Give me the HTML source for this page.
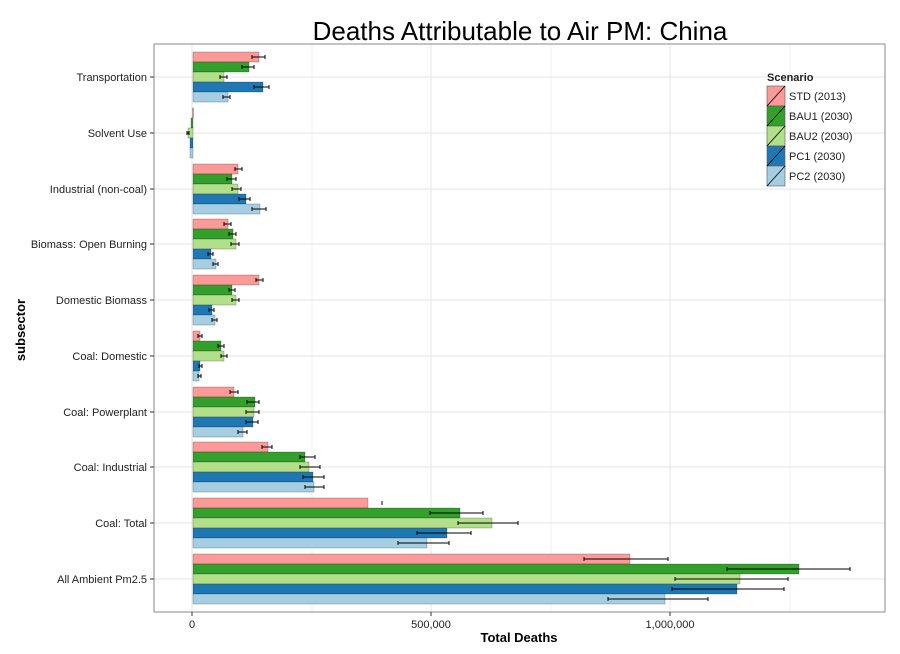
<!DOCTYPE html>
<html><head><meta charset="utf-8"><style>
html,body{margin:0;padding:0;background:#fff;}
svg{display:block;font-family:"Liberation Sans",sans-serif;}
.a{fill:#fb9a99}.b{fill:#33a02c}.c{fill:#b2df8a}.d{fill:#1f78b4}.e{fill:#a6cee3}
#bars rect{stroke:rgba(0,0,0,0.35);stroke-width:0.6}
.err{stroke:#000;stroke-width:1;fill:none}
</style></head><body>
<svg width="900" height="654" viewBox="0 0 900 654" xmlns="http://www.w3.org/2000/svg">
<rect width="900" height="654" fill="#fff"/>
<text x="520" y="40" font-size="26" text-anchor="middle" fill="#000">Deaths Attributable to Air PM: China</text>
<g stroke-width="1">
<line x1="312" y1="44" x2="312" y2="612" stroke="#f0f0f0"/>
<line x1="551" y1="44" x2="551" y2="612" stroke="#f0f0f0"/>
<line x1="790" y1="44" x2="790" y2="612" stroke="#f0f0f0"/>
<line x1="192" y1="44" x2="192" y2="612" stroke="#e4e4e4"/>
<line x1="431" y1="44" x2="431" y2="612" stroke="#e4e4e4"/>
<line x1="670" y1="44" x2="670" y2="612" stroke="#e4e4e4"/>
</g>
<g stroke="#e4e4e4">
<line x1="154" x2="885" y1="77" y2="77"/><line x1="154" x2="885" y1="133" y2="133"/>
<line x1="154" x2="885" y1="189" y2="189"/><line x1="154" x2="885" y1="244" y2="244"/>
<line x1="154" x2="885" y1="300" y2="300"/><line x1="154" x2="885" y1="356" y2="356"/>
<line x1="154" x2="885" y1="412" y2="412"/><line x1="154" x2="885" y1="467" y2="467"/>
<line x1="154" x2="885" y1="523" y2="523"/><line x1="154" x2="885" y1="579" y2="579"/>
</g>
<g id="bars">
<rect class="a" x="193" y="52" width="66" height="10"/><rect class="b" x="193" y="62" width="56" height="10"/><rect class="c" x="193" y="72" width="31" height="10"/><rect class="d" x="193" y="82" width="70" height="10"/><rect class="e" x="193" y="92" width="35" height="10"/>
<rect class="a" x="192.5" y="108" width="1" height="10"/><rect class="b" x="191" y="118" width="2" height="10"/><rect class="c" x="188" y="128" width="5" height="10"/><rect class="d" x="190" y="138" width="3" height="10"/><rect class="e" x="190" y="148" width="3" height="10"/>
<rect class="a" x="193" y="164" width="45" height="10"/><rect class="b" x="193" y="174" width="39" height="10"/><rect class="c" x="193" y="184" width="45" height="10"/><rect class="d" x="193" y="194" width="53" height="10"/><rect class="e" x="193" y="204" width="67" height="10"/>
<rect class="a" x="193" y="219" width="35" height="10"/><rect class="b" x="193" y="229" width="40" height="10"/><rect class="c" x="193" y="239" width="43" height="10"/><rect class="d" x="193" y="249" width="18" height="10"/><rect class="e" x="193" y="259" width="23" height="10"/>
<rect class="a" x="193" y="275" width="66" height="10"/><rect class="b" x="193" y="285" width="39" height="10"/><rect class="c" x="193" y="295" width="43" height="10"/><rect class="d" x="193" y="305" width="19" height="10"/><rect class="e" x="193" y="315" width="22" height="10"/>
<rect class="a" x="193" y="331" width="7" height="10"/><rect class="b" x="193" y="341" width="28" height="10"/><rect class="c" x="193" y="351" width="31" height="10"/><rect class="d" x="193" y="361" width="7" height="10"/><rect class="e" x="193" y="371" width="6" height="10"/>
<rect class="a" x="193" y="387" width="41" height="10"/><rect class="b" x="193" y="397" width="62" height="10"/><rect class="c" x="193" y="407" width="61" height="10"/><rect class="d" x="193" y="417" width="60" height="10"/><rect class="e" x="193" y="427" width="50" height="10"/>
<rect class="a" x="193" y="442" width="75" height="10"/><rect class="b" x="193" y="452" width="112" height="10"/><rect class="c" x="193" y="462" width="116" height="10"/><rect class="d" x="193" y="472" width="120" height="10"/><rect class="e" x="193" y="482" width="121" height="10"/>
<rect class="a" x="193" y="498" width="175" height="10"/><rect class="b" x="193" y="508" width="267" height="10"/><rect class="c" x="193" y="518" width="299" height="10"/><rect class="d" x="193" y="528" width="254" height="10"/><rect class="e" x="193" y="538" width="234" height="10"/>
<rect class="a" x="193" y="554" width="437" height="10"/><rect class="b" x="193" y="564" width="606" height="10"/><rect class="c" x="193" y="574" width="547" height="10"/><rect class="d" x="193" y="584" width="544" height="10"/><rect class="e" x="193" y="594" width="472" height="10"/>
</g>
<path class="err" d="
M252 57H265M252 55V59M265 55V59 M242 67H254M242 65V69M254 65V69 M220 77H227M220 75V79M227 75V79 M254 87H269M254 85V89M269 85V89 M223 97H230M223 95V99M230 95V99
M187 133H189M187 131V135M189 131V135
M235 169H242M235 167V171M242 167V171 M227 179H236M227 177V181M236 177V181 M232 189H241M232 187V191M241 187V191 M239 199H250M239 197V201M250 197V201 M252 209H266M252 207V211M266 207V211
M224 224H231M224 222V226M231 222V226 M229 234H236M229 232V236M236 232V236 M231 244H239M231 242V246M239 242V246 M208 254H213M208 252V256M213 252V256 M213 264H218M213 262V266M218 262V266
M256 280H263M256 278V282M263 278V282 M229 290H235M229 288V292M235 288V292 M232 300H239M232 298V302M239 298V302 M209 310H214M209 308V312M214 308V312 M212 320H217M212 318V322M217 318V322
M198 336H202M198 334V338M202 334V338 M218 346H224M218 344V348M224 344V348 M221 356H227M221 354V358M227 354V358 M199 366H202M199 364V368M202 364V368 M198 376H201M198 374V378M201 374V378
M230 392H238M230 390V394M238 390V394 M247 402H259M247 400V404M259 400V404 M246 412H259M246 410V414M259 410V414 M246 422H258M246 420V424M258 420V424 M238 432H247M238 430V434M247 430V434
M262 447H272M262 445V449M272 445V449 M300 457H315M300 455V459M315 455V459 M300 467H320M300 465V469M320 465V469 M303 477H324M303 475V479M324 475V479 M305 487H324M305 485V489M324 485V489
M382 501V505 M430 513H483M430 511V515M483 511V515 M458 523H518M458 521V525M518 521V525 M417 533H471M417 531V535M471 531V535 M398 543H449M398 541V545M449 541V545
M584 559H668M584 557V561M668 557V561 M727 569H850M727 567V571M850 567V571 M675 579H788M675 577V581M788 577V581 M672 589H784M672 587V591M784 587V591 M608 599H708M608 597V601M708 597V601"/>
<rect x="154" y="44" width="731" height="568" fill="none" stroke="#888" stroke-width="1"/>
<g font-size="11" text-anchor="end" fill="#222">
<text x="147" y="81">Transportation</text><text x="147" y="137">Solvent Use</text><text x="147" y="193">Industrial (non-coal)</text><text x="147" y="248">Biomass: Open Burning</text><text x="147" y="304">Domestic Biomass</text><text x="147" y="360">Coal: Domestic</text><text x="147" y="416">Coal: Powerplant</text><text x="147" y="471">Coal: Industrial</text><text x="147" y="527">Coal: Total</text><text x="147" y="583">All Ambient Pm2.5</text>
</g>
<path stroke="#333" d="M150 77H154M150 133H154M150 189H154M150 244H154M150 300H154M150 356H154M150 412H154M150 467H154M150 523H154M150 579H154M192 612V616M431 612V616M670 612V616"/>
<g font-size="11" fill="#222" text-anchor="middle">
<text x="192" y="628">0</text><text x="431" y="628">500,000</text><text x="670" y="628">1,000,000</text>
</g>
<text x="519" y="642" font-size="13" font-weight="bold" text-anchor="middle">Total Deaths</text>
<text transform="translate(25,330) rotate(-90)" font-size="13" font-weight="bold" text-anchor="middle">subsector</text>
<text x="767" y="81" font-size="11" font-weight="bold" fill="#222">Scenario</text>
<g stroke="#555" stroke-width="0.6">
<rect class="a" x="767" y="86" width="18" height="20"/><rect class="b" x="767" y="106" width="18" height="20"/><rect class="c" x="767" y="126" width="18" height="20"/><rect class="d" x="767" y="146" width="18" height="20"/><rect class="e" x="767" y="166" width="18" height="20"/>
</g>
<path stroke="#000" stroke-width="0.8" d="M767 106L785 86M767 126L785 106M767 146L785 126M767 166L785 146M767 186L785 166"/>
<g font-size="11" fill="#222">
<text x="789" y="100">STD (2013)</text><text x="789" y="120">BAU1 (2030)</text><text x="789" y="140">BAU2 (2030)</text><text x="789" y="160">PC1 (2030)</text><text x="789" y="180">PC2 (2030)</text>
</g>
</svg>
</body></html>
